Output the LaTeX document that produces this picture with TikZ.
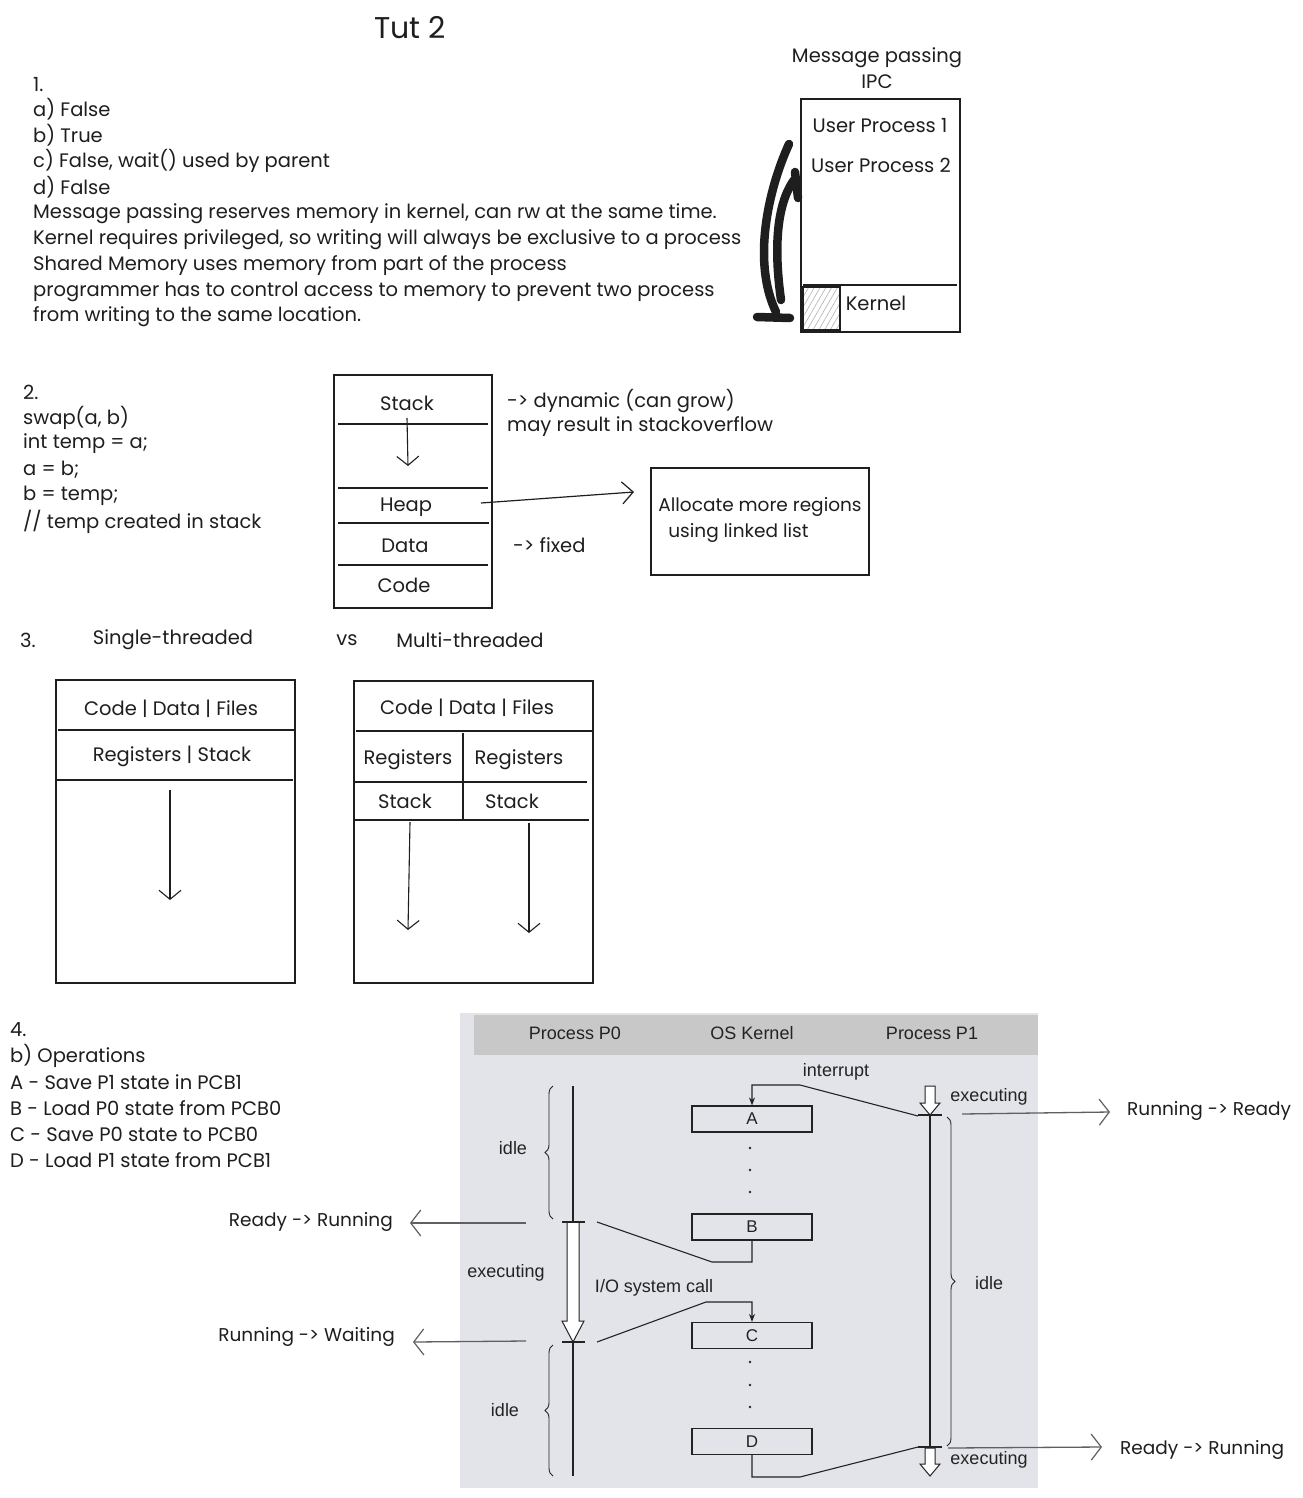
\documentclass[tikz,border=0pt]{standalone}
\usepackage{fontspec}
\setmainfont{Poppins}
\newfontfamily\arialf{Liberation Sans}
\usetikzlibrary{arrows.meta,patterns.meta,decorations.pathreplacing}
\definecolor{ink}{HTML}{1E1E1E}
\definecolor{bggray}{RGB}{226,228,233}
\definecolor{hdrgray}{RGB}{200,200,200}
\definecolor{skgray}{RGB}{95,95,100}
\definecolor{diag}{RGB}{35,35,35}
\begin{document}
\begin{tikzpicture}[x=1pt,y=-1pt,
  hw/.style={font=\fontsize{19.5}{22}\selectfont, text=ink, inner sep=0pt},
  hwl/.style={hw, anchor=west},
  note/.style={hw, font=\fontsize{18.5}{22}\selectfont},
  ar/.style={font=\arialf\fontsize{18}{20}\selectfont, text=diag, inner sep=0pt},
  box/.style={draw=ink, line width=1.3pt},
  sep/.style={draw=ink, line width=1.1pt},
  vhead/.style={-{Straight Barb[length=9pt,width=22pt,line width=1.1pt]}},
  skarrow/.style={draw=skgray, line width=1.3pt, -{Straight Barb[length=10pt,width=26pt,line width=1.2pt]}},
  dline/.style={draw=diag, line width=1.1pt},
  kbox/.style={draw=diag, line width=1.2pt, minimum width=120pt, minimum height=26pt, inner sep=0pt, font=\arialf\fontsize{17}{19}\selectfont, text=diag},
  hollow/.style={draw=diag, fill=white, line width=1pt},
  brc/.style={draw=diag, line width=0.9pt, decorate, decoration={brace, amplitude=8pt}}
]
\useasboundingbox (0,0) rectangle (1302,1498);
\fill[white] (0,0) rectangle (1302,1498);

% ---------- Title
\node[hw, font=\fontsize{30}{34}\selectfont] (title) at (410,28) {Tut 2};

% ---------- Section 1
\node[hwl] (s1) at (33,85) {1.};
\node[hwl] (s1a) at (33,109) {a) False};
\node[hwl] (s1b) at (33,135) {b) True};
\node[hwl] (s1c) at (33,161) {c) False, wait() used by parent};
\node[hwl] (s1d) at (33,187) {d) False};
\node[hwl] (s1e) at (33,214) {Message passing reserves memory in kernel, can rw at the same time.};
\node[hwl] (s1f) at (33,240) {Kernel requires privileged, so writing will always be exclusive to a process};
\node[hwl] (s1g) at (33,266) {Shared Memory uses memory from part of the process};
\node[hwl] (s1h) at (33,292) {programmer has to control access to memory to prevent two process};
\node[hwl] (s1i) at (33,317) {from writing to the same location.};

% ---------- Message passing IPC
\node[hw] (ipct1) at (877,58) {Message passing};
\node[hw] (ipct2) at (877,82) {IPC};
\draw[box] (801,99) rectangle (960,332);
\node[hw] (up1) at (880,126) {User Process 1};
\node[hw] (up2) at (881,165) {User Process 2};
\draw[sep] (803,285) -- (957,285);
\draw[draw=ink, line width=1.4pt, pattern={Lines[angle=60,distance=5pt,line width=0.6pt]}, pattern color=gray!60] (803,287) rectangle (840,330);
\node[hw] (kern) at (876,303) {Kernel};
\draw[ink, line width=8.5pt, line cap=round] (789,144) .. controls (768,190) and (752,262) .. (776,312);
\draw[ink, line width=8.5pt, line cap=round] (757,317) -- (790,318);
\draw[ink, line width=8.5pt, line cap=round] (781,300) .. controls (774,250) and (776,205) .. (794,180);
\draw[ink, line width=8.5pt, line cap=round] (795,172) -- (798,198);

% ---------- Section 2
\node[hwl] (s2) at (23,392) {2.};
\node[hwl] (s2a) at (23,418) {swap(a, b)};
\node[hwl] (s2b) at (23,444) {int temp = a;};
\node[hwl] (s2c) at (23,470) {a = b;};
\node[hwl] (s2d) at (23,496) {b = temp;};
\node[hwl] (s2e) at (23,522) {// temp created in stack};

\draw[box] (334,375) rectangle (492,608);
\draw[sep] (338,424) -- (488,424);
\draw[sep] (338,488) -- (488,488);
\draw[sep] (338,523) -- (489,523);
\draw[sep] (338,565) -- (488,565);
\node[hw] (mstack) at (407,403) {Stack};
\node[hw] (mheap) at (406,507) {Heap};
\node[hw] (mdata) at (405,546) {Data};
\node[hw] (mcode) at (404,585) {Code};
\coordinate (sarr0) at (407,418);
\coordinate (sarr) at (408,466);
\draw[ink, line width=1.1pt, vhead] (sarr0) -- (sarr);
\node[hwl] (dyn1) at (507,401) {-> dynamic (can grow)};
\node[hwl] (dyn2) at (507,427) {may result in stackoverflow};
\node[hwl] (fixed) at (513,545) {-> fixed};
\node[box, minimum width=218pt, minimum height=107pt, inner sep=0pt] (alloc) at (760,521.5) {};
\node[note, align=left] (alloct) at (760,520) {Allocate more regions\\[4pt]\hspace*{10pt}using linked list};
\coordinate (heapout) at (481,503);
\coordinate (heapin) at (634,492);
\draw[ink, line width=1.2pt, -{Straight Barb[length=11pt,width=22pt,line width=1.2pt]}] (heapout) -- (heapin);

% ---------- Section 3
\node[hwl] (s3) at (20,640) {3.};
\node[hw] (single) at (173,640) {Single-threaded};
\node[hw] (vs) at (347,640) {vs};
\node[hw] (multi) at (470,640) {Multi-threaded};

\draw[box] (56,680) rectangle (295,983);
\draw[sep] (58,730) -- (295,730);
\draw[sep] (56,780) -- (293,780);
\node[hw] (scdf) at (171,709) {Code | Data | Files};
\node[hw] (srs) at (172,756) {Registers | Stack};
\coordinate (sa1) at (170,790);
\coordinate (sa2) at (170,900);
\draw[ink, line width=1.1pt, vhead] (sa1) -- (sa2);

\draw[box] (354,681) rectangle (593,983);
\draw[sep] (356,731) -- (593,731);
\draw[sep] (463,733) -- (463,820);
\draw[sep] (354,782) -- (587,782);
\draw[sep] (354,820) -- (589,820);
\node[hw] (mcdf) at (467,708) {Code | Data | Files};
\node[hw] (mr1) at (408,760) {Registers};
\node[hw] (mr2) at (519,760) {Registers};
\node[hw] (ms1) at (405,801) {Stack};
\node[hw] (ms2) at (512,801) {Stack};
\coordinate (ma1) at (410,822);
\coordinate (ma2) at (408,930);
\coordinate (mb1) at (529,823);
\coordinate (mb2) at (529,933);
\draw[ink, line width=1.1pt, vhead] (ma1) -- (ma2);
\draw[ink, line width=1.1pt, vhead] (mb1) -- (mb2);

% ---------- Section 4 text
\node[hwl] (s4) at (10,1030) {4.};
\node[hwl] (s4a) at (10,1056) {b) Operations};
\node[hwl] (s4b) at (10,1082) {A - Save P1 state in PCB1};
\node[hwl] (s4c) at (10,1108) {B - Load P0 state from PCB0};
\node[hwl] (s4d) at (10,1134) {C - Save P0 state to PCB0};
\node[hwl] (s4e) at (10,1160) {D - Load P1 state from PCB1};

% ---------- Context switch diagram
\fill[bggray] (460,1013) rectangle (1038,1488);
\fill[hdrgray] (474,1015) rectangle (1038,1055);
\node[ar] (hp0) at (575,1033) {Process P0};
\node[ar] (hos) at (752,1033) {OS Kernel};
\node[ar] (hp1) at (932,1033) {Process P1};

\node[kbox] (A) at (752,1119) {A};
\node[kbox] (B) at (752,1227) {B};
\node[kbox] (C) at (752,1335.5) {C};
\node[kbox] (D) at (752,1441.5) {D};
\foreach \yy in {1148,1170,1192,1362,1385,1407} \fill[diag] (750,\yy) circle (1.3pt);

% P0 timeline
\coordinate (p0top) at (573,1086);
\coordinate (p0t1) at (573,1222);
\coordinate (p0t2) at (573,1342);
\coordinate (p0bot) at (573,1476);
\draw[diag, line width=1.8pt] (p0top) -- (p0t1);
\draw[hollow] (567,1222) -- (567,1321) -- (562,1321) -- (573,1342) -- (584,1321) -- (579,1321) -- (579,1222);
\draw[diag, line width=1.2pt] (562,1222) -- (585,1222);
\draw[diag, line width=1.2pt] (562,1342) -- (585,1342);
\draw[diag, line width=1.8pt] (p0t2) -- (p0bot);
\draw[brc] (553,1219) -- (553,1086);
\draw[brc] (553,1476) -- (553,1345);
\node[ar] (idle1) at (513,1148) {idle};
\node[ar] (exe0) at (506,1273) {executing};
\node[ar] (idle2) at (505,1410) {idle};

% P1 timeline
\coordinate (p1t1) at (930,1115);
\coordinate (p1t2) at (930,1447);
\draw[hollow] (925,1086) -- (925,1103) -- (920,1103) -- (930,1115) -- (940,1103) -- (935,1103) -- (935,1086) -- cycle;
\draw[diag, line width=1.8pt] (p1t1) -- (p1t2);
\draw[diag, line width=1.2pt] (918,1115) -- (942,1115);
\draw[diag, line width=1.2pt] (918,1447) -- (942,1447);
\draw[hollow] (925,1448) -- (925,1464) -- (920,1464) -- (930,1476) -- (940,1464) -- (935,1464) -- (935,1448) -- cycle;
\draw[brc] (947,1117) -- (947,1446);
\node[ar] (exe1) at (989,1097) {executing};
\node[ar] (idle3) at (989,1283) {idle};
\node[ar] (exe2) at (989,1460) {executing};

% kernel connectors
\node[ar] (intr) at (836,1072) {interrupt};
\node[ar] (iosc) at (654,1288) {I/O system call};
\draw[dline, -{Stealth[length=8pt,width=6pt]}] (918,1116) -- (800,1085) -| (A.north);
\draw[dline] (B.south) |- (712,1262) -- (597,1222);
\draw[dline, -{Stealth[length=8pt,width=6pt]}] (597,1342) -- (706,1302) -| (C.north);
\draw[dline] (D.south) |- (800,1477) -- (918,1447);

% state transition notes
\node[note, anchor=west] (rr) at (1127,1111) {Running -> Ready};
\node[note, anchor=west] (rdr2) at (1120,1450) {Ready -> Running};
\node[note, anchor=east] (rdr1) at (393,1222) {Ready -> Running};
\node[note, anchor=east] (rw) at (395,1337) {Running -> Waiting};
\coordinate (rrs) at (962,1114);
\coordinate (rre) at (1110,1112);
\coordinate (rds) at (948,1448);
\coordinate (rde) at (1102,1447);
\coordinate (lrs) at (526,1223);
\coordinate (lre) at (410,1223);
\coordinate (lws) at (526,1341);
\coordinate (lwe) at (413,1342);
\draw[skarrow] (rrs) -- (rre);
\draw[skarrow] (rds) -- (rde);
\draw[skarrow] (lrs) -- (lre);
\draw[skarrow] (lws) -- (lwe);
\end{tikzpicture}
\end{document}
